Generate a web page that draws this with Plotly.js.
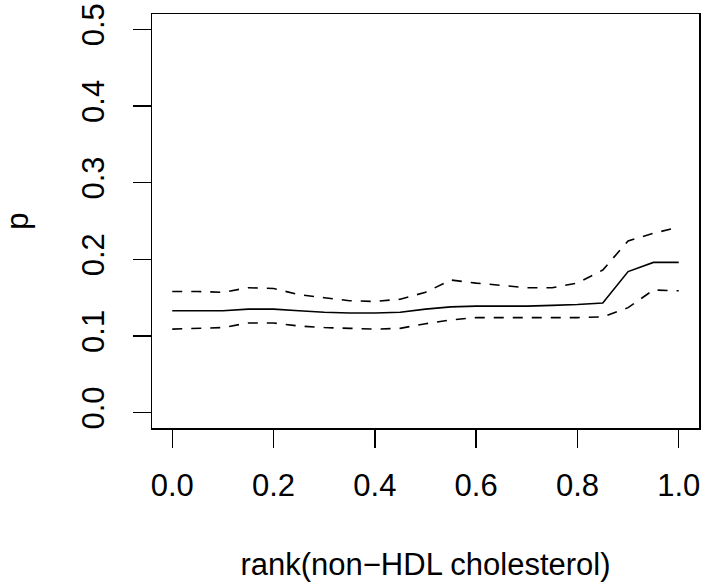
<!DOCTYPE html>
<html>
<head>
<meta charset="utf-8">
<script src="https://cdn.plot.ly/plotly-3.0.1.min.js"></script>
<style>html,body{margin:0;padding:0;background:#fff;}#chart{width:705px;height:582px;}</style>
</head>
<body>
<div id="chart"></div>
<script>
const rankX = [0.00,0.05,0.10,0.15,0.20,0.25,0.30,0.35,0.40,0.45,0.50,0.55,0.60,0.65,0.70,0.75,0.80,0.85,0.90,0.95,1.00];
const pEstimate = [0.133,0.133,0.133,0.135,0.135,0.133,0.131,0.130,0.130,0.131,0.135,0.138,0.139,0.139,0.139,0.140,0.141,0.143,0.184,0.196,0.196];
const pUpper = [0.158,0.158,0.157,0.163,0.162,0.154,0.150,0.146,0.145,0.148,0.157,0.173,0.169,0.166,0.163,0.163,0.169,0.186,0.224,0.234,0.242];
const pLower = [0.109,0.110,0.111,0.117,0.117,0.113,0.111,0.110,0.109,0.110,0.116,0.121,0.124,0.124,0.124,0.124,0.124,0.125,0.137,0.160,0.159];
const xTicks = [0,0.2,0.4,0.6,0.8,1.0];
const yTicks = [0,0.1,0.2,0.3,0.4,0.5];

const font = {family: 'Liberation Sans, Arial, sans-serif', size: 31, color: '#000'};
const traces = [
  {x: rankX, y: pEstimate, mode: 'lines', line: {color: '#000', width: 1.6}, hoverinfo: 'skip'},
  {x: rankX, y: pUpper, mode: 'lines', line: {color: '#000', width: 1.6, dash: '10px,9px'}, hoverinfo: 'skip'},
  {x: rankX, y: pLower, mode: 'lines', line: {color: '#000', width: 1.6, dash: '10px,9px'}, hoverinfo: 'skip'}
];
const layout = {
  width: 705, height: 582,
  margin: {l: 152, r: 6, t: 14, b: 154},
  paper_bgcolor: '#fff', plot_bgcolor: '#fff',
  showlegend: false,
  font: font,
  xaxis: {
    range: [-0.04, 1.04], tickvals: xTicks, ticktext: xTicks.map(v => v.toFixed(1)),
    ticks: 'outside', ticklen: 18, tickwidth: 1.5, tickcolor: '#000',
    showline: true, mirror: true, linecolor: '#000', linewidth: 1.5,
    showgrid: false, zeroline: false, ticklabelstandoff: 11,
    tickfont: font,
    title: {text: 'rank(non\u2212HDL cholesterol)', font: font, standoff: 52}
  },
  yaxis: {
    range: [-0.02, 0.52], tickvals: yTicks, ticktext: yTicks.map(v => v.toFixed(1)),
    ticks: 'outside', ticklen: 18, tickwidth: 1.5, tickcolor: '#000',
    showline: true, mirror: true, linecolor: '#000', linewidth: 1.5,
    showgrid: false, zeroline: false, tickangle: -90, ticklabelstandoff: 16,
    tickfont: font,
    title: {text: 'p', font: font, standoff: 42}
  }
};
Plotly.newPlot('chart', traces, layout, {staticPlot: true, displayModeBar: false});
</script>
</body>
</html>
